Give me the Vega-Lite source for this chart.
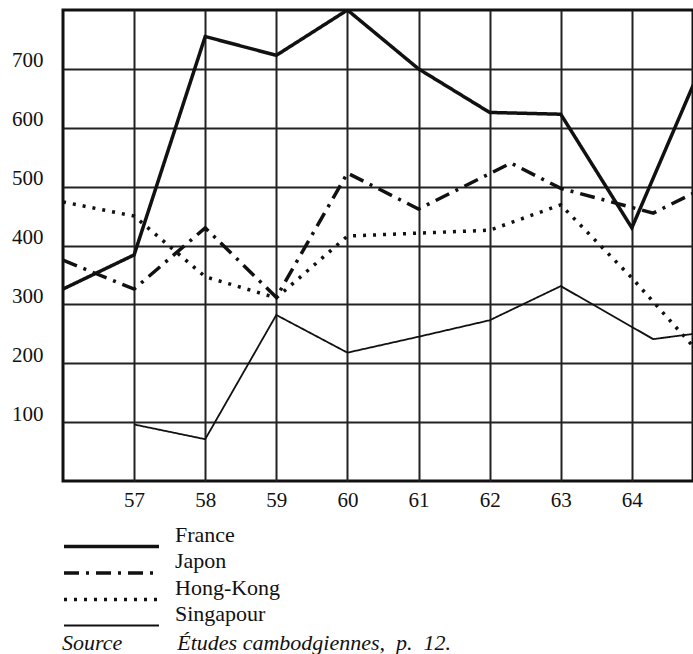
{
  "$schema": "https://vega.github.io/schema/vega-lite/v6.json",
  "width": 630,
  "height": 471,
  "autosize": {"type": "none"},
  "padding": {"left": 63, "top": 10, "right": 0, "bottom": 173},
  "background": "white",
  "config": {
    "view": {"stroke": "#111", "strokeWidth": 3},
    "font": "Liberation Serif",
    "axis": {"labelFont": "Liberation Serif", "labelColor": "#111", "grid": true, "gridColor": "#222", "gridWidth": 2, "gridOpacity": 1, "ticks": false, "tickSize": 0, "domain": false, "title": null}
  },
  "data": {
    "values": [
      {"annee": 56, "valeur": 326, "pays": "France"},
      {"annee": 57, "valeur": 384, "pays": "France"},
      {"annee": 58, "valeur": 755, "pays": "France"},
      {"annee": 59, "valeur": 723, "pays": "France"},
      {"annee": 60, "valeur": 800, "pays": "France"},
      {"annee": 61, "valeur": 700, "pays": "France"},
      {"annee": 62, "valeur": 626, "pays": "France"},
      {"annee": 63, "valeur": 623, "pays": "France"},
      {"annee": 64, "valeur": 430, "pays": "France"},
      {"annee": 65, "valeur": 711, "pays": "France"},
      {"annee": 56, "valeur": 375, "pays": "Japon"},
      {"annee": 57, "valeur": 326, "pays": "Japon"},
      {"annee": 58, "valeur": 430, "pays": "Japon"},
      {"annee": 59, "valeur": 312, "pays": "Japon"},
      {"annee": 60, "valeur": 523, "pays": "Japon"},
      {"annee": 61, "valeur": 462, "pays": "Japon"},
      {"annee": 62.3, "valeur": 540, "pays": "Japon"},
      {"annee": 63, "valeur": 497, "pays": "Japon"},
      {"annee": 64.3, "valeur": 455, "pays": "Japon"},
      {"annee": 65, "valeur": 497, "pays": "Japon"},
      {"annee": 56, "valeur": 474, "pays": "Hong-Kong"},
      {"annee": 57, "valeur": 450, "pays": "Hong-Kong"},
      {"annee": 58, "valeur": 347, "pays": "Hong-Kong"},
      {"annee": 59, "valeur": 311, "pays": "Hong-Kong"},
      {"annee": 60, "valeur": 416, "pays": "Hong-Kong"},
      {"annee": 61, "valeur": 421, "pays": "Hong-Kong"},
      {"annee": 62, "valeur": 426, "pays": "Hong-Kong"},
      {"annee": 63, "valeur": 469, "pays": "Hong-Kong"},
      {"annee": 64, "valeur": 345, "pays": "Hong-Kong"},
      {"annee": 65, "valeur": 210, "pays": "Hong-Kong"},
      {"annee": 57, "valeur": 96, "pays": "Singapour"},
      {"annee": 58, "valeur": 71, "pays": "Singapour"},
      {"annee": 59, "valeur": 282, "pays": "Singapour"},
      {"annee": 60, "valeur": 218, "pays": "Singapour"},
      {"annee": 61, "valeur": 245, "pays": "Singapour"},
      {"annee": 62, "valeur": 273, "pays": "Singapour"},
      {"annee": 63, "valeur": 331, "pays": "Singapour"},
      {"annee": 64.3, "valeur": 241, "pays": "Singapour"},
      {"annee": 65, "valeur": 252, "pays": "Singapour"}
    ]
  },
  "mark": {"type": "line", "color": "#111", "clip": true, "strokeJoin": "miter"},
  "encoding": {
    "x": {
      "field": "annee", "type": "quantitative",
      "scale": {"domain": [56, 64.86], "nice": false, "zero": false},
      "axis": {"values": [57, 58, 59, 60, 61, 62, 63, 64], "labelFontSize": 21, "labelPadding": 8, "labelBaseline": "top", "format": "d", "labelFlush": false}
    },
    "y": {
      "field": "valeur", "type": "quantitative",
      "scale": {"domain": [0, 800], "nice": false},
      "axis": {"values": [100, 200, 300, 400, 500, 600, 700], "labelFontSize": 21, "labelPadding": 20, "labelBaseline": "alphabetic", "labelOffset": -2, "labelFlush": false}
    },
    "strokeDash": {
      "field": "pays", "type": "nominal",
      "scale": {"domain": ["France", "Japon", "Hong-Kong", "Singapour"], "range": [[1, 0], [15, 7, 3, 7], [3, 7], [1, 0]]},
      "legend": {
        "orient": "none", "legendX": -1, "legendY": 525, "direction": "vertical", "padding": 0,
        "symbolType": "M-1,0H9", "symbolSize": 361, "symbolStrokeColor": "#111", "symbolFillColor": "transparent",
        "labelFont": "Liberation Serif", "labelFontSize": 22, "labelColor": "#111", "labelOffset": 90, "labelBaseline": "bottom",
        "rowPadding": -4.5,
        "title": "Source\u00a0\u00a0\u00a0\u00a0\u00a0\u00a0\u00a0\u00a0\u00a0\u00a0Études cambodgiennes,\u00a0 p.\u00a0 12.",
        "titleOrient": "bottom", "titleFont": "Liberation Serif", "titleFontSize": 22, "titleFontStyle": "italic", "titleFontWeight": "normal", "titleColor": "#111", "titleAnchor": "start", "titlePadding": 4, "titleLimit": 600
      }
    },
    "strokeWidth": {
      "field": "pays", "type": "nominal",
      "scale": {"type": "ordinal", "domain": ["France", "Japon", "Hong-Kong", "Singapour"], "range": [3.5, 3.5, 3.5, 1.8]},
      "legend": null
    }
  }
}
